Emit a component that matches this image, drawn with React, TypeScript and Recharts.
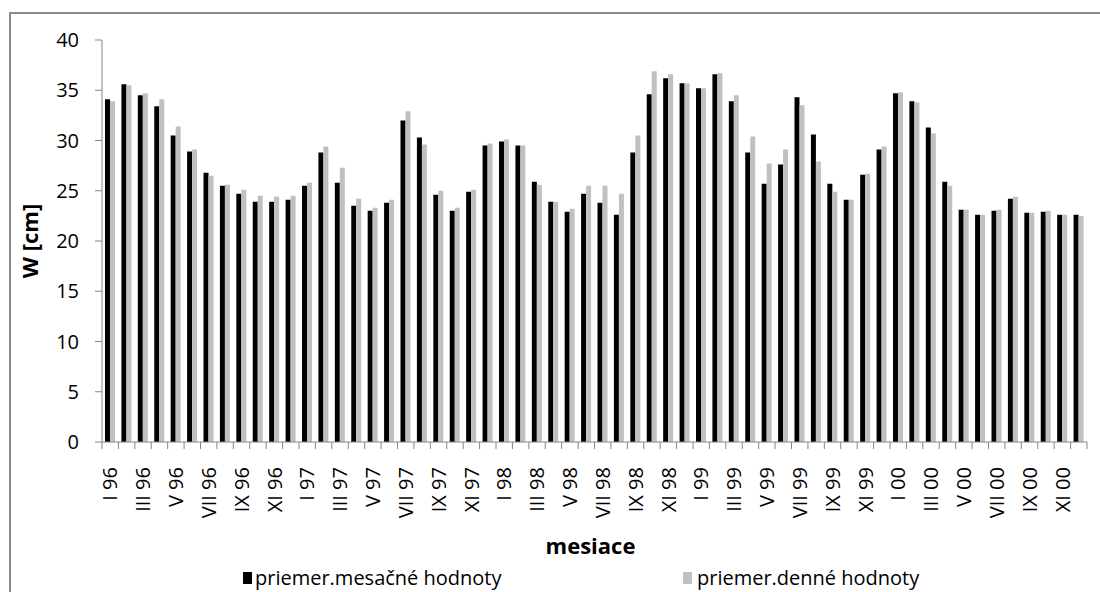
import React from 'react';
import { BarChart, Bar, XAxis, YAxis, Legend } from 'recharts';

const romans = ['I', 'II', 'III', 'IV', 'V', 'VI', 'VII', 'VIII', 'IX', 'X', 'XI', 'XII'];
const years = ['96', '97', '98', '99', '00'];
const categories: string[] = years.flatMap((y) => romans.map((r) => `${r} ${y}`));

const monthlyMeans = [
  34.1, 35.6, 34.5, 33.4, 30.5, 28.9, 26.8, 25.5, 24.7, 23.9, 23.9, 24.1,
  25.5, 28.8, 25.8, 23.5, 23.0, 23.8, 32.0, 30.3, 24.6, 23.0, 24.9, 29.5,
  29.9, 29.5, 25.9, 23.9, 22.9, 24.7, 23.8, 22.6, 28.8, 34.6, 36.2, 35.7,
  35.2, 36.6, 33.9, 28.8, 25.7, 27.6, 34.3, 30.6, 25.7, 24.1, 26.6, 29.1,
  34.7, 33.9, 31.3, 25.9, 23.1, 22.6, 23.0, 24.2, 22.8, 22.9, 22.6, 22.6,
];
const dailyMeans = [
  33.9, 35.5, 34.7, 34.1, 31.4, 29.1, 26.5, 25.6, 25.1, 24.5, 24.4, 24.5,
  25.8, 29.4, 27.3, 24.2, 23.3, 24.1, 32.9, 29.6, 25.0, 23.3, 25.1, 29.7,
  30.1, 29.5, 25.6, 23.9, 23.2, 25.5, 25.5, 24.7, 30.5, 36.9, 36.6, 35.7,
  35.2, 36.7, 34.5, 30.4, 27.7, 29.1, 33.5, 27.9, 24.9, 24.1, 26.7, 29.4,
  34.8, 33.8, 30.7, 25.5, 23.1, 22.6, 23.1, 24.4, 22.8, 23.0, 22.6, 22.5,
];
const yTicks = [0, 5, 10, 15, 20, 25, 30, 35, 40];
const seriesNames = ['priemer.mesačné hodnoty', 'priemer.denné hodnoty'];

const data = categories.map((c, i) => ({ name: c, m: monthlyMeans[i], d: dailyMeans[i] }));

const FONT = '"Open Sans", sans-serif';
const AXIS = '#868686';

const XTick = (props: any) => {
  const { x, y, payload, index } = props;
  const half = payload && payload.offset ? payload.offset : 8.2;
  const isLast = index === categories.length - 1;
  return (
    <g>
      <line x1={x - half} x2={x - half} y1={y} y2={y + 7} stroke={AXIS} strokeWidth={1} />
      {isLast && <line x1={x + half} x2={x + half} y1={y} y2={y + 7} stroke={AXIS} strokeWidth={1} />}
      {index % 2 === 0 && (
        <text
          transform={`translate(${x},${y + 25}) rotate(-90)`}
          textAnchor="end"
          dy="0.36em"
          fontFamily={FONT}
          fontSize={20}
          fill="#000"
        >
          {payload.value}
        </text>
      )}
    </g>
  );
};

const LegendContent = () => (
  <div style={{ position: 'relative', width: 1100, height: 26, fontFamily: FONT, fontSize: 20, color: '#000' }}>
    <div style={{ position: 'absolute', left: 243, top: 6, width: 9, height: 12, background: '#000' }} />
    <span style={{ position: 'absolute', left: 255, top: -2, whiteSpace: 'nowrap' }}>{seriesNames[0]}</span>
    <div style={{ position: 'absolute', left: 683, top: 6, width: 9, height: 12, background: '#c0c0c0' }} />
    <span style={{ position: 'absolute', left: 697, top: -2, whiteSpace: 'nowrap' }}>{seriesNames[1]}</span>
  </div>
);

export default function App() {
  return (
    <div style={{ position: 'absolute', left: 0, top: 0, width: 1100, height: 592, background: '#fff', overflow: 'hidden' }}>
      <div
        style={{
          position: 'absolute', left: 9, top: 12, width: 1200, height: 700,
          borderLeft: '2px solid #8a8a8a', borderTop: '2px solid #8a8a8a',
        }}
      />
      <BarChart
        width={1100}
        height={592}
        data={data}
        margin={{ top: 40, right: 13, left: 0, bottom: 0 }}
        barGap={0}
        style={{ position: 'absolute', left: 0, top: 0 }}
      >
        <XAxis
          dataKey="name"
          interval={0}
          height={150}
          tickSize={0}
          tickMargin={0}
          tickLine={false}
          axisLine={{ stroke: AXIS }}
          tick={<XTick />}
          label={{
            content: (p: any) => {
              const vb = p.viewBox || { x: 102, y: 442, width: 985, height: 150 };
              return (
                <text x={vb.x + vb.width / 2 - 4} y={vb.y + 112} textAnchor="middle" fontFamily={FONT} fontSize={22} fontWeight="bold" fill="#000">
                  mesiace
                </text>
              );
            },
          }}
        />
        <YAxis
          width={102}
          domain={[0, 40]}
          ticks={yTicks}
          interval={0}
          tickSize={7}
          tickMargin={16}
          axisLine={{ stroke: AXIS }}
          tickLine={{ stroke: AXIS }}
          tick={{ fontFamily: FONT, fontSize: 20, fill: '#000' }}
          label={{
            content: (p: any) => {
              const vb = p.viewBox || { x: 0, y: 40, width: 102, height: 402 };
              const cy = vb.y + vb.height / 2;
              return (
                <text transform={`translate(${vb.x + 30},${cy}) rotate(-90)`} textAnchor="middle" dy="0.36em" fontFamily={FONT} fontSize={22} fontWeight="bold" fill="#000">
                  W [cm]
                </text>
              );
            },
          }}
        />
        <Legend
          layout="horizontal"
          verticalAlign="middle"
          align="center"
          content={<LegendContent />}
          wrapperStyle={{ position: 'absolute', left: 0, top: 566, width: 1100, height: 26 }}
        />
        <Bar dataKey="m" name={seriesNames[0]} fill="#000000" barSize={5} isAnimationActive={false} />
        <Bar dataKey="d" name={seriesNames[1]} fill="#c0c0c0" barSize={5} isAnimationActive={false} />
      </BarChart>
    </div>
  );
}
